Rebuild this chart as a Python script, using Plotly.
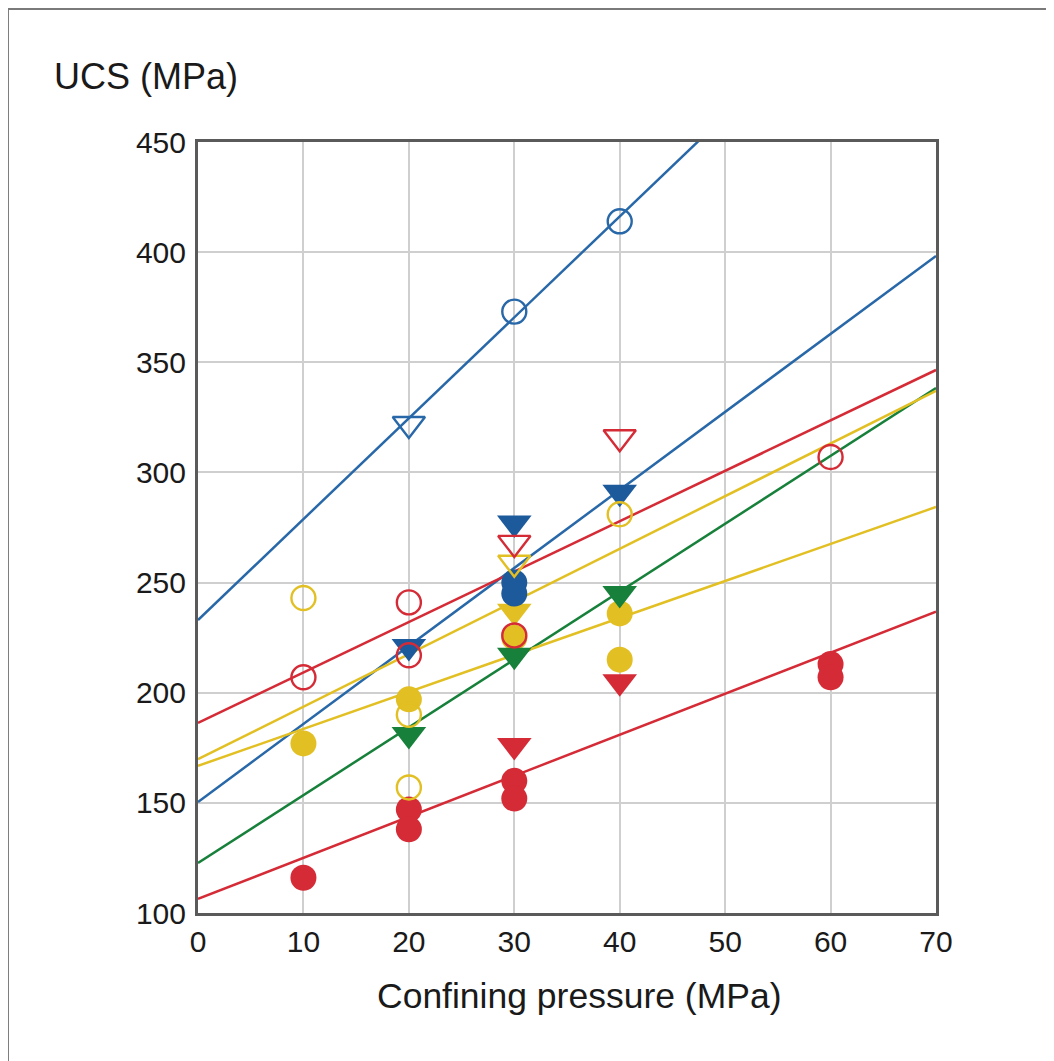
import plotly.graph_objects as go

# ---------------- data ----------------
BLUE = "#2868a8"
BLUE_DARK = "#1d5a9c"
RED = "#d52b36"
YELLOW = "#e2bf22"
GREEN = "#17803a"

# blue
blue_open_circle_x = [30, 40]
blue_open_circle_y = [373, 414]
blue_open_tri_x = [20]
blue_open_tri_y = [322]
blue_fill_tri_x = [20, 30, 40]
blue_fill_tri_y = [221, 277, 291]
blue_fill_circle_x = [30, 30]
blue_fill_circle_y = [250, 245]

# red
red_open_circle_x = [10, 20, 20, 30, 60]
red_open_circle_y = [207, 241, 217, 226, 307]
red_open_tri_x = [30, 40]
red_open_tri_y = [268, 316]
red_fill_tri_x = [30, 40]
red_fill_tri_y = [176, 205]
red_fill_circle_x = [10, 20, 20, 30, 30, 60, 60]
red_fill_circle_y = [116, 147, 138, 160, 152, 213, 207]

# yellow
yellow_open_circle_x = [10, 20, 20, 40]
yellow_open_circle_y = [243, 190, 157, 281]
yellow_open_tri_x = [30]
yellow_open_tri_y = [259]
yellow_fill_tri_x = [30]
yellow_fill_tri_y = [237]
yellow_fill_circle_x = [10, 20, 30, 40, 40]
yellow_fill_circle_y = [177, 197, 225, 236, 215]

# green
green_fill_tri_x = [20, 30, 40]
green_fill_tri_y = [181, 217, 245]

# fitted lines (values at x = 0 and x = 70)
fit_x = [0, 70]
fit_blue_upper = [233, 553.6]
fit_blue_lower = [150.4, 398.3]
fit_red_upper = [186.3, 346.5]
fit_red_lower = [106.4, 236.8]
fit_green = [122.7, 338.3]
fit_yellow_upper = [169.8, 337.0]
fit_yellow_lower = [166.8, 284.3]

x_ticks = [0, 10, 20, 30, 40, 50, 60, 70]
y_ticks = [100, 150, 200, 250, 300, 350, 400, 450]

# ---------------- figure ----------------
fig = go.Figure()

for ys, col in [(fit_blue_upper, BLUE), (fit_blue_lower, BLUE),
                (fit_red_upper, RED), (fit_red_lower, RED),
                (fit_green, GREEN),
                (fit_yellow_upper, YELLOW), (fit_yellow_lower, YELLOW)]:
    fig.add_trace(go.Scatter(x=fit_x, y=ys, mode="lines",
                             line=dict(color=col, width=2.5),
                             showlegend=False, hoverinfo="skip"))

CIRC = 26
TRI = 30
LW = 2.4


def add_pts(x, y, col, symbol, filled):
    size = CIRC if symbol == "circle" else TRI
    if filled:
        marker = dict(symbol=symbol, size=size, color=col, line=dict(width=0))
    else:
        marker = dict(symbol=symbol + "-open", size=size - 2, color=col,
                      line=dict(width=LW, color=col))
    fig.add_trace(go.Scatter(x=x, y=y, mode="markers", marker=marker,
                             showlegend=False, cliponaxis=False))


add_pts(red_fill_circle_x, red_fill_circle_y, RED, "circle", True)
add_pts(red_fill_tri_x, red_fill_tri_y, RED, "triangle-down", True)
add_pts(yellow_fill_circle_x, yellow_fill_circle_y, YELLOW, "circle", True)
add_pts(green_fill_tri_x, green_fill_tri_y, GREEN, "triangle-down", True)
add_pts(yellow_fill_tri_x, yellow_fill_tri_y, YELLOW, "triangle-down", True)
add_pts(blue_fill_circle_x, blue_fill_circle_y, BLUE_DARK, "circle", True)
add_pts(blue_fill_tri_x, blue_fill_tri_y, BLUE_DARK, "triangle-down", True)
add_pts(red_open_circle_x, red_open_circle_y, RED, "circle", False)
add_pts(yellow_open_circle_x, yellow_open_circle_y, YELLOW, "circle", False)
add_pts(blue_open_circle_x, blue_open_circle_y, BLUE, "circle", False)
add_pts(yellow_open_tri_x, yellow_open_tri_y, YELLOW, "triangle-down", False)
add_pts(red_open_tri_x, red_open_tri_y, RED, "triangle-down", False)
add_pts(blue_open_tri_x, blue_open_tri_y, BLUE, "triangle-down", False)

FONT = "Liberation Sans, Arial, sans-serif"
axis_common = dict(showgrid=True, gridcolor="#cfcfcf", gridwidth=1.5,
                   showline=True, linecolor="#5a5a5a", linewidth=3, mirror=True,
                   ticks="", zeroline=False,
                   tickfont=dict(family=FONT, size=30, color="#1a1a1a"))

fig.update_layout(
    width=1046, height=1053,
    margin=dict(l=190, r=118, t=134, b=148, autoexpand=False),
    paper_bgcolor="white", plot_bgcolor="white",
    xaxis=dict(range=[0, 70], tickvals=x_ticks, ticklabelstandoff=0, **axis_common),
    yaxis=dict(range=[100, 450], tickvals=y_ticks, ticklabelstandoff=3, **axis_common),
    font=dict(family=FONT, color="#1a1a1a"),
    annotations=[
        dict(text="UCS (MPa)", xref="paper", yref="paper", x=-0.0705, y=1.0856,
             xanchor="center", yanchor="middle", showarrow=False,
             font=dict(family=FONT, size=36, color="#1a1a1a")),
        dict(text="Confining pressure (MPa)", xref="paper", yref="paper",
             x=0.516, y=-0.1077, xanchor="center", yanchor="middle",
             showarrow=False, font=dict(family=FONT, size=35.5, color="#1a1a1a")),
    ],
    shapes=[
        dict(type="line", xref="paper", yref="paper", x0=-0.2575, x1=-0.2575,
             y0=1.1725, y1=-0.2, line=dict(color="#7a7a7a", width=2)),
        dict(type="line", xref="paper", yref="paper", x0=-0.2575, x1=1.17,
             y0=1.1725, y1=1.1725, line=dict(color="#7a7a7a", width=2)),
    ],
)

fig.write_html("out.html")
